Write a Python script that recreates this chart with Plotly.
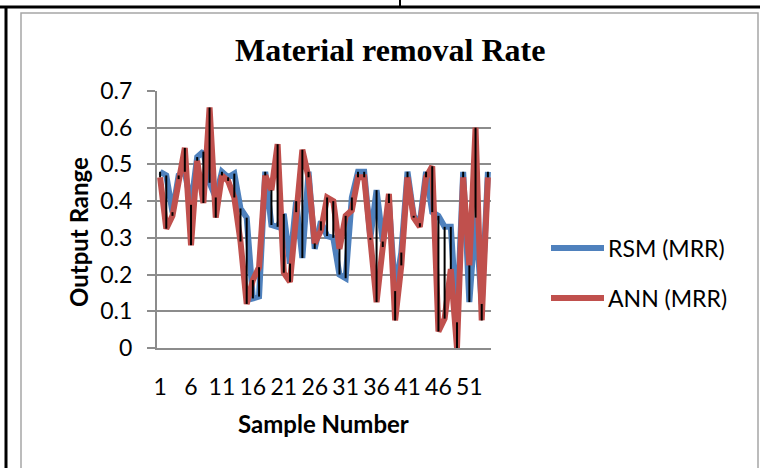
import plotly.graph_objects as go

samples = list(range(1, 55))
rsm_mrr = [0.48, 0.47, 0.37, 0.47, 0.48, 0.39, 0.52, 0.535, 0.45, 0.41,
           0.48, 0.465, 0.475, 0.38, 0.355, 0.135, 0.14, 0.48, 0.335, 0.33,
           0.365, 0.23, 0.40, 0.245, 0.48, 0.27, 0.345, 0.305, 0.30, 0.20,
           0.19, 0.41, 0.48, 0.48, 0.30, 0.43, 0.29, 0.395, 0.155, 0.26,
           0.48, 0.36, 0.34, 0.48, 0.37, 0.36, 0.33, 0.33, 0.07, 0.48,
           0.125, 0.355, 0.12, 0.48]
ann_mrr = [0.465, 0.325, 0.36, 0.46, 0.545, 0.28, 0.51, 0.395, 0.655, 0.355,
           0.47, 0.455, 0.41, 0.29, 0.12, 0.185, 0.22, 0.47, 0.43, 0.555,
           0.205, 0.18, 0.37, 0.54, 0.465, 0.285, 0.32, 0.41, 0.40, 0.27,
           0.36, 0.375, 0.465, 0.465, 0.295, 0.125, 0.275, 0.42, 0.075, 0.225,
           0.465, 0.355, 0.33, 0.465, 0.495, 0.045, 0.08, 0.215, 0.0, 0.465,
           0.225, 0.60, 0.075, 0.465]
y_ticks = [0, 0.1, 0.2, 0.3, 0.4, 0.5, 0.6, 0.7]
x_ticks = [1, 6, 11, 16, 21, 26, 31, 36, 41, 46, 51]

BLUE = "#4F81BD"
RED = "#C0504D"
GRID = "#8C8C8C"
FONT = "Lato"

W, H = 760, 468
L, R, T, B = 157, 491, 91, 348


def xp(px):
    return (px - L) / (R - L)


def yp(py):
    return (B - py) / (B - T)


# high-low connector lines
hl_x, hl_y = [], []
for s, a, b in zip(samples, rsm_mrr, ann_mrr):
    hl_x += [s, s, None]
    hl_y += [a, b, None]

fig = go.Figure()
fig.add_trace(go.Scatter(x=samples, y=rsm_mrr, mode="lines", name="RSM (MRR)",
                         line=dict(color=BLUE, width=6), showlegend=False))
fig.add_trace(go.Scatter(x=samples, y=ann_mrr, mode="lines", name="ANN (MRR)",
                         line=dict(color=RED, width=6), showlegend=False))
fig.add_trace(go.Scatter(x=hl_x, y=hl_y, mode="lines", showlegend=False,
                         line=dict(color="black", width=2), hoverinfo="skip"))

shapes = []
annotations = []

# page / table frame
shapes.append(dict(type="line", xref="paper", yref="paper", x0=xp(0), x1=xp(760),
                   y0=yp(7), y1=yp(7), line=dict(color="black", width=3)))
shapes.append(dict(type="line", xref="paper", yref="paper", x0=xp(400), x1=xp(400),
                   y0=yp(0), y1=yp(7), line=dict(color="black", width=2)))
shapes.append(dict(type="line", xref="paper", yref="paper", x0=xp(6), x1=xp(6),
                   y0=yp(7), y1=yp(470), line=dict(color="black", width=3)))
shapes.append(dict(type="rect", xref="paper", yref="paper", x0=xp(21), x1=xp(758),
                   y0=yp(13), y1=yp(475), line=dict(color="#A6A6A6", width=1.5)))

# manual legend
for (label, col, py) in [("RSM (MRR)", BLUE, 248), ("ANN (MRR)", RED, 298)]:
    shapes.append(dict(type="line", xref="paper", yref="paper", x0=xp(551), x1=xp(604),
                       y0=yp(py), y1=yp(py), line=dict(color=col, width=6)))
    annotations.append(dict(text=label, xref="paper", yref="paper", x=xp(606), y=yp(py),
                            xanchor="left", yanchor="middle", showarrow=False,
                            font=dict(family=FONT, size=23, color="black")))

annotations.append(dict(text="<b>Material removal Rate</b>", xref="paper", yref="paper",
                        x=xp(390), y=yp(50), xanchor="center", yanchor="middle",
                        showarrow=False,
                        font=dict(family="Liberation Serif", size=32, color="black")))
annotations.append(dict(text="<b>Output Range</b>", xref="paper", yref="paper",
                        x=xp(78), y=yp(232), xanchor="center", yanchor="middle",
                        showarrow=False, textangle=-90,
                        font=dict(family=FONT, size=24, color="black")))
annotations.append(dict(text="<b>Sample Number</b>", xref="paper", yref="paper",
                        x=xp(323), y=yp(423), xanchor="center", yanchor="middle",
                        showarrow=False,
                        font=dict(family=FONT, size=24, color="black")))

fig.update_layout(
    width=W, height=H,
    margin=dict(l=L, r=W - R, t=T, b=H - B, pad=0),
    paper_bgcolor="white", plot_bgcolor="white",
    shapes=shapes, annotations=annotations,
    showlegend=False,
    xaxis=dict(range=[0.5, 54.5], tickmode="array", tickvals=x_ticks,
               ticktext=[str(v) for v in x_ticks], showgrid=False, zeroline=False,
               showline=True, linecolor=GRID, linewidth=2, ticks="",
               ticklabelstandoff=17,
               tickfont=dict(family=FONT, size=23, color="black")),
    yaxis=dict(range=[0, 0.7], tickmode="array", tickvals=y_ticks,
               ticktext=[("%g" % v) for v in y_ticks],
               showgrid=True, gridcolor=GRID, gridwidth=2, zeroline=False,
               showline=True, linecolor=GRID, linewidth=2,
               ticks="outside", ticklen=8, tickwidth=2, tickcolor=GRID,
               ticklabelstandoff=10,
               tickfont=dict(family=FONT, size=23, color="black")),
)

fig.write_html("out.html")
